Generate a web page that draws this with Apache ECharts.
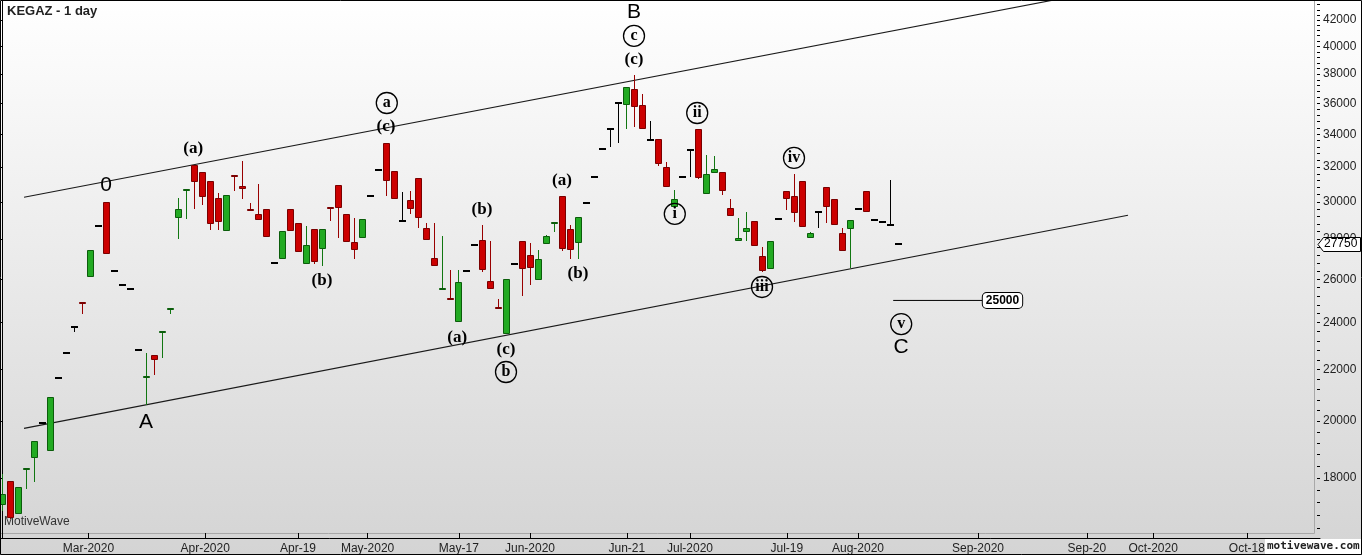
<!DOCTYPE html>
<html><head><meta charset="utf-8">
<script src="https://cdn.jsdelivr.net/npm/echarts@6/dist/echarts.min.js"></script>
<style>
html,body{margin:0;padding:0;}
#c{width:1362px;height:555px;background:linear-gradient(#ffffff,#d4d4d4);}
</style>
</head><body><div id="c"></div>
<script>
// ---- data (one entry per daily bar) ----
const open  = [17110,17890,16830,18320,18690,19920,18910,21640,22700,23820,24910,26090,28690,29980,26410,25740,25550,22820,21690,22590,23610,24640,29140,30690,32120,31700,31180,30220,28430,31550,30900,29610,29320,29590,26810,26980,29590,28840,26730,28520,27480,29700,30940,29320,27840,28050,30350,31840,33430,31750,28940,30090,31340,28590,27040,25570,25130,24010,26410,27720,27940,25900,24710,23480,26740,27890,27180,25950,27740,28890,30310,28520,27790,29960,31430,33060,34350,36040,35870,36950,35870,33660,33680,31980,29730,31430,33000,34310,30420,31630,31690,29650,27890,28360,28940,27130,26480,29080,30590,30310,31160,28050,29460,30820,30140,28310,28520,29620,30590,29030,28920,28760,27750];
const close = [17470,16710,17690,18350,19280,19920,20910,21640,22700,23820,24820,27430,28690,27260,26410,25740,25550,22820,21720,22400,23640,24670,29590,30720,31140,30270,28800,28900,30390,31520,30710,29580,28990,28100,26810,28410,28410,27330,27690,26830,28520,29590,29680,27840,27430,29050,30350,31840,31160,30140,28940,29590,29100,27940,26630,25600,25100,25850,26410,27720,26430,25530,24690,26000,26740,26480,26530,26980,28150,28920,27480,27430,29160,29960,31430,33060,34350,36040,37080,35780,34350,33660,32160,30820,30140,31430,33000,31370,31570,31860,30590,29210,28050,28570,27630,26380,27890,29080,30140,29370,28620,28310,29460,29700,28730,27380,28990,29620,29430,29030,28920,28760,27750];
const low   = [16940,16700,16830,17630,17880,19920,18910,21640,22700,23600,24390,26090,28690,27260,26410,25740,25550,22820,20600,21780,22490,24390,28020,29080,29590,29830,28480,28480,28430,30630,30140,29580,28990,28100,26810,26980,28410,27330,26730,26730,26630,28940,28050,27840,26980,28050,30350,31840,30350,30140,28940,29320,28570,27940,26630,25570,25100,24010,26410,27720,26340,25530,24690,23480,26740,25220,25710,25950,27740,28360,27380,26980,26980,29960,31430,33060,33230,33470,34310,34480,34350,33660,32040,30820,29730,31430,31430,31310,30420,31630,30410,29210,27890,27900,27630,26340,26480,29080,29540,28890,28620,28050,28570,28840,28730,27380,26530,29550,29430,29030,28920,28760,27750];
const high  = [18130,17890,17690,18350,19280,19920,20910,21640,22700,23820,24910,27430,28690,29980,26410,25740,25550,22820,22670,22590,23640,24670,30220,30720,32120,31700,31180,30500,30390,31550,32360,29920,31010,29590,26810,28410,29590,28840,28680,28520,28520,29700,30940,29320,29120,29050,30350,31840,33430,31750,30540,30590,31340,28850,28850,28170,26450,26450,26410,27720,28750,27900,25050,26000,26740,27890,27790,27430,28200,28920,30310,28730,29160,29960,31430,33060,34350,36040,37080,37920,36630,34820,33680,32280,30670,31430,33000,34310,32700,32640,31690,30140,29100,29430,28940,27580,27890,29080,30590,31570,31160,28360,29460,30820,30140,28570,28990,29620,30590,29030,28920,31220,27750];

// price axis ticks (log scale)
const yTickValues = [18000,20000,22000,24000,26000,28000,30000,32000,34000,36000,38000,40000,42000];
const yRange = [16110, 43580];
// time axis ticks (bar positions) and their labels
const xTickBars  = [10.8, 25.4, 37, 45.7, 57.1, 66, 78.1, 86, 98.1, 107, 122, 135.6, 143.9, 155.6];
const xTickText  = ['Mar-2020','Apr-2020','Apr-19','May-2020','May-17','Jun-2020','Jun-21','Jul-2020','Jul-19','Aug-2020','Sep-2020','Sep-20','Oct-2020','Oct-18'];
const xRange = [-0.25, 164.75];

// trend channel (bar, price)
const upperChannel = [[2.75, 30256], [131.5, 43580]];
const lowerChannel = [[2.75, 19733], [140.75, 29265]];
// target line
const targetLine = [[111.4, 25000], [122.6, 25000]];
const targetText = '25000';

// Elliott wave labels
const waveText  = ['0','A','(a)','(b)','a','(c)','(b)','(a)','(c)','b','(a)','(b)','B','c','(c)','ii','i','iv','iii','v','C'];
const waveBar   = [13, 18, 23.9, 40, 48.1, 48, 60, 56.9, 63, 63, 70, 72, 79, 79, 79, 86.9, 84.1, 99, 95, 112.4, 112.4];
const wavePrice = [30950, 19960, 33100, 25910, 36020, 34460, 29550, 23320, 22810, 21900, 31180, 26260, 42630, 40780, 39000, 35360, 29340, 32540, 25630, 23930, 22940];

const titleText = 'KEGAZ - 1 day';

// ---- chart ----
const LN = Math.log;
const GREEN = '#22aa22', GREEN_EDGE = '#0b5d0b', GREEN_WICK = '#117711';
const RED = '#cc0000', RED_EDGE = '#7a0000', RED_WICK = '#990000';

const candleData = open.map((o, i) => [i, LN(o), LN(close[i]), LN(low[i]), LN(high[i])]);

function renderCandle(params, api) {
  const i = api.value(0), o = api.value(1), c = api.value(2), l = api.value(3), h = api.value(4);
  const pO = api.coord([i, o]), pC = api.coord([i, c]), pL = api.coord([i, l]), pH = api.coord([i, h]);
  const X = Math.round(pO[0]);
  let fill, edge, wick;
  if (c > o) { fill = GREEN; edge = GREEN_EDGE; wick = GREEN_WICK; }
  else if (c < o) { fill = RED; edge = RED_EDGE; wick = RED_WICK; }
  else { fill = edge = wick = '#000'; }
  const children = [];
  const yH = Math.round(pH[1]), yL = Math.round(pL[1]);
  if (yL - yH >= 1) {
    children.push({type: 'line', shape: {x1: X + 0.5, y1: yH, x2: X + 0.5, y2: yL}, style: {stroke: wick, lineWidth: 1}});
  }
  if (c === o) {
    const y = Math.round(pO[1]);
    children.push({type: 'rect', shape: {x: X - 3, y: y - 1, width: 7, height: 2}, style: {fill: '#000'}});
  } else {
    let top = Math.round(Math.min(pO[1], pC[1])), bot = Math.round(Math.max(pO[1], pC[1]));
    if (bot - top < 2) bot = top + 2;
    children.push({type: 'rect', shape: {x: X - 2.5, y: top + 0.5, width: 6, height: bot - top - 1},
      style: {fill: fill, stroke: edge, lineWidth: 1}});
  }
  return {type: 'group', children: children};
}

function waveItem(t, i) {
  const base = {value: [waveBar[i], LN(wavePrice[i])]};
  if (t === '0' || t === 'A' || t === 'B' || t === 'C') {
    base.symbolSize = 0;
    base.label = {fontFamily: 'Liberation Sans', fontSize: 21, fontWeight: 'normal', color: '#000'};
  } else if (t.charAt(0) === '(') {
    base.symbolSize = 0;
    base.label = {fontFamily: 'Liberation Serif', fontSize: 17, fontWeight: 'bold', color: '#000'};
  } else {
    base.symbol = 'circle';
    base.symbolSize = 21;
    base.itemStyle = {color: 'rgba(255,255,255,0)', borderColor: '#000', borderWidth: 1.3, opacity: 1};
    base.label = {fontFamily: 'Liberation Serif', fontSize: 16, fontWeight: 'bold', color: '#000'};
  }
  base.label.show = true;
  base.label.position = 'inside';
  base.label.formatter = t;
  base.label.opacity = 1;
  return base;
}

const minorTicks = [];
for (let v = 16400; v <= 43200; v += 400) minorTicks.push(LN(v));

const chart = echarts.init(document.getElementById('c'), null, {renderer: 'canvas'});
chart.setOption({
  animation: false,
  backgroundColor: 'transparent',
  grid: {left: 0, right: 42, top: 0, bottom: 17, outerBoundsMode: 'none', containLabel: false},
  xAxis: {
    type: 'value', min: xRange[0], max: xRange[1],
    axisLine: {show: true, lineStyle: {color: '#000', width: 1}},
    axisTick: {show: true, inside: true, length: 5, lineStyle: {color: '#000'}, customValues: xTickBars},
    axisLabel: {show: true, customValues: xTickBars, margin: 5, color: '#222', fontSize: 12,
      fontFamily: 'Liberation Sans', formatter: v => xTickText[xTickBars.indexOf(v)] || ''},
    splitLine: {show: false}
  },
  yAxis: [{
    type: 'value', position: 'right', min: LN(yRange[0]), max: LN(yRange[1]),
    axisLine: {show: true, lineStyle: {color: '#000', width: 1}},
    axisTick: {show: true, inside: true, length: 6, lineStyle: {color: '#000'}, customValues: yTickValues.map(LN)},
    axisLabel: {show: true, inside: false, margin: 3, color: '#222', fontSize: 12, fontFamily: 'Liberation Sans',
      customValues: yTickValues.map(LN), formatter: v => String(Math.round(Math.exp(v)))},
    splitLine: {show: false}
  }, {
    type: 'value', position: 'right', min: LN(yRange[0]), max: LN(yRange[1]),
    axisLine: {show: false},
    axisTick: {show: true, inside: true, length: 3, lineStyle: {color: '#000'}, customValues: minorTicks},
    axisLabel: {show: false},
    splitLine: {show: false}
  }],
  series: [
    {type: 'line', data: upperChannel.map(p => [p[0], LN(p[1])]), symbol: 'none', silent: true,
      lineStyle: {color: '#1a1a1a', width: 1.2}, clip: true, z: 2},
    {type: 'line', data: lowerChannel.map(p => [p[0], LN(p[1])]), symbol: 'none', silent: true,
      lineStyle: {color: '#1a1a1a', width: 1.2}, clip: true, z: 2},
    {type: 'line', data: targetLine.map(p => [p[0], LN(p[1])]), symbol: 'none', silent: true,
      lineStyle: {color: '#000', width: 1}, z: 3,
      endLabel: {show: true, formatter: targetText, distance: 0, backgroundColor: '#fff', borderColor: '#000',
        borderWidth: 1, borderRadius: 4, padding: [2, 3, 1, 3], fontSize: 12, fontWeight: 'bold',
        fontFamily: 'Liberation Sans', color: '#000'}},
    {type: 'custom', data: candleData, renderItem: renderCandle, encode: {x: 0, y: [1, 2, 3, 4]}, z: 4, clip: true},
    {type: 'scatter', data: waveText.map(waveItem), silent: true, z: 5, itemStyle: {opacity: 1},
      emphasis: {disabled: true}}
  ]
});

// last price tag on the price axis
const lastPrice = close[close.length - 1];
const ty = Math.round(chart.convertToPixel({yAxisIndex: 0}, LN(lastPrice)));
chart.setOption({
  graphic: [
    {type: 'text', left: 7, top: 5, style: {text: titleText, font: 'bold 13px "Liberation Sans"', fill: '#222'}},
    {type: 'text', left: 4, top: 516, style: {text: 'MotiveWave', font: '12px "Liberation Sans"', fill: '#333'}},
    {type: 'line', shape: {x1: 0, y1: 533.5, x2: 1314.5, y2: 533.5}, style: {stroke: '#a8a8a8', lineWidth: 1}, silent: true},
    {type: 'line', shape: {x1: 1314.5, y1: 0, x2: 1314.5, y2: 533.5}, style: {stroke: '#a8a8a8', lineWidth: 1}, silent: true},
    {type: 'polygon', shape: {points: [[1318, ty + 0.5], [1323.5, ty - 6.5], [1360.5, ty - 6.5], [1360.5, ty + 7.5], [1323.5, ty + 7.5]]},
      style: {fill: '#fff', stroke: '#000', lineWidth: 1}, z: 10},
    {type: 'text', x: 1324, y: ty - 6, z: 11, style: {text: String(lastPrice), font: '12px "Liberation Sans"', fill: '#000'}},
    {type: 'rect', shape: {x: 1265, y: 539, width: 96, height: 15}, style: {fill: '#fff'}, z: 10},
    {type: 'text', x: 1267, y: 541, z: 11, style: {text: 'motivewave.com', font: 'bold 11px "DejaVu Sans Mono"', fill: '#222'}},
    {type: 'rect', shape: {x: 0.5, y: 0.5, width: 1361, height: 554}, style: {fill: null, stroke: '#000', lineWidth: 1}, silent: true, z: 20}
  ]
});
</script>
</body></html>
